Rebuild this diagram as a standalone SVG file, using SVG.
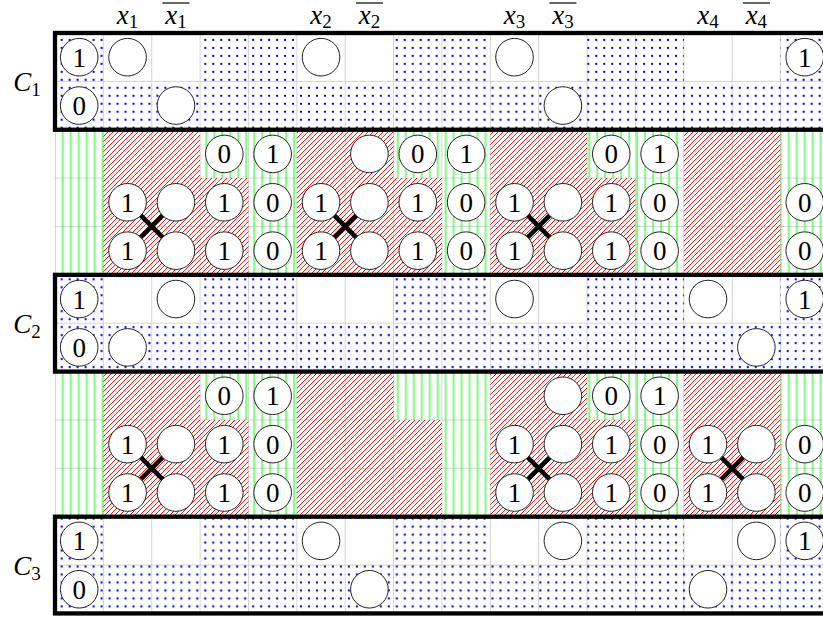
<svg xmlns="http://www.w3.org/2000/svg" width="823" height="617" viewBox="0 0 823 617">
<defs>
<style>
.grid{stroke:#d0d0d0;stroke-width:0.9;fill:none}
.dots{fill:url(#pd)}
.vl{fill:url(#pg)}
.ne{fill:url(#pr)}
.box{fill:none;stroke:#000;stroke-width:4.3}
.xm{stroke:#000;stroke-width:4.6;fill:none}
.n circle{fill:#fff;stroke:#222;stroke-width:1}
.n text{font-family:"Liberation Serif","DejaVu Serif",serif;font-size:27px;text-anchor:middle;fill:#000}
.lab{font-family:"Liberation Serif","DejaVu Serif",serif;font-size:27px;text-anchor:middle;fill:#000}
.lab .v{font-style:italic}
.lab .s{font-size:19px}
.ov{stroke:#000;stroke-width:1.2}
</style>
<pattern id="pd" patternUnits="userSpaceOnUse" x="57.7" y="36" width="7.978" height="7.978"><circle cx="3.989" cy="3.989" r="1.15" fill="#0000ff"/></pattern>
<pattern id="pg" patternUnits="userSpaceOnUse" x="58.7" y="0" width="7.978" height="8"><rect x="3.5" y="0" width="1" height="8" fill="#00ff00"/></pattern>
<pattern id="pr" patternUnits="userSpaceOnUse" x="0" y="0" width="5" height="5"><path d="M0,5 L5,0 M-1,1 L1,-1 M4,6 L6,4" stroke="#ff0000" stroke-width="0.9" fill="none"/></pattern>
</defs>
<rect x="0" y="0" width="823" height="617" fill="#fff"/>

<g id="grid">
<path class="grid" d="M103.37,33V613.44M151.74,33V613.44M200.11,33V613.44M248.48,33V613.44M296.85,33V613.44M345.22,33V613.44M393.59,33V613.44M441.96,33V613.44M490.33,33V613.44M538.7,33V613.44M587.07,33V613.44M635.44,33V613.44M683.81,33V613.44M732.18,33V613.44M780.55,33V613.44M55,81.37H830M55,129.74H830M55,178.11H830M55,226.48H830M55,274.85H830M55,323.22H830M55,371.59H830M55,419.96H830M55,468.33H830M55,516.7H830M55,565.07H830"/>
</g>

<g id="clause-fills">
<path class="dots" d="M55,33h48.37v48.37h-48.37z M200.11,33h96.74v48.37h-96.74z M393.59,33h96.74v48.37h-96.74z M587.07,33h96.74v48.37h-96.74z M780.55,33h48.37v48.37h-48.37z M55,81.37h773.92v48.37h-773.92z"/>
<path class="dots" d="M55,274.85h48.37v48.37h-48.37z M200.11,274.85h96.74v48.37h-96.74z M393.59,274.85h96.74v48.37h-96.74z M587.07,274.85h96.74v48.37h-96.74z M780.55,274.85h48.37v48.37h-48.37z M55,323.22h773.92v48.37h-773.92z"/>
<path class="dots" d="M55,516.7h48.37v48.37h-48.37z M200.11,516.7h96.74v48.37h-96.74z M393.59,516.7h96.74v48.37h-96.74z M587.07,516.7h96.74v48.37h-96.74z M780.55,516.7h48.37v48.37h-48.37z M55,565.07h773.92v48.37h-773.92z"/>
</g>

<g id="band-fills">
<path class="vl" d="M55,129.74h48.37v145.11h-48.37z M200.11,129.74h48.37v48.37h-48.37z M248.48,129.74h48.37v145.11h-48.37z M393.59,129.74h48.37v48.37h-48.37z M441.96,129.74h48.37v145.11h-48.37z M587.07,129.74h48.37v48.37h-48.37z M635.44,129.74h48.37v145.11h-48.37z M780.55,129.74h48.37v145.11h-48.37z"/>
<path class="ne" d="M103.37,129.74H200.11V178.11H248.48V274.85H103.37Z M296.85,129.74H393.59V178.11H441.96V274.85H296.85Z M490.33,129.74H587.07V178.11H635.44V274.85H490.33Z M683.81,129.74h96.74v145.11h-96.74z"/>
<path class="vl" d="M55,371.59h48.37v145.11h-48.37z M200.11,371.59h48.37v48.37h-48.37z M248.48,371.59h48.37v145.11h-48.37z M393.59,371.59h48.37v48.37h-48.37z M441.96,371.59h48.37v145.11h-48.37z M587.07,371.59h48.37v48.37h-48.37z M635.44,371.59h48.37v145.11h-48.37z M780.55,371.59h48.37v145.11h-48.37z"/>
<path class="ne" d="M103.37,371.59H200.11V419.96H248.48V516.7H103.37Z M296.85,371.59H393.59V419.96H441.96V516.7H296.85Z M490.33,371.59H587.07V419.96H635.44V516.7H490.33Z M683.81,371.59h96.74v145.11h-96.74z"/>
</g>

<g id="boxes">
<rect class="box" x="55" y="33" width="773.92" height="96.74"/>
<rect class="box" x="55" y="274.85" width="773.92" height="96.74"/>
<rect class="box" x="55" y="516.7" width="773.92" height="96.74"/>
</g>

<g id="connectors">
<path class="xm" d="M139.74,214.48l24,24M163.74,214.48l-24,24"/>
<path class="xm" d="M333.22,214.48l24,24M357.22,214.48l-24,24"/>
<path class="xm" d="M526.7,214.48l24,24M550.7,214.48l-24,24"/>
<path class="xm" d="M139.74,456.33l24,24M163.74,456.33l-24,24"/>
<path class="xm" d="M526.7,456.33l24,24M550.7,456.33l-24,24"/>
<path class="xm" d="M720.18,456.33l24,24M744.18,456.33l-24,24"/>
</g>

<g id="labels">
<text class="lab" x="127.56" y="24"><tspan class="v">x</tspan><tspan class="s" dy="4">1</tspan></text>
<text class="lab" x="175.93" y="24"><tspan class="v">x</tspan><tspan class="s" dy="4">1</tspan></text>
<line class="ov" x1="162.4" y1="3" x2="189.4" y2="3"/>
<text class="lab" x="321.04" y="24"><tspan class="v">x</tspan><tspan class="s" dy="4">2</tspan></text>
<text class="lab" x="369.41" y="24"><tspan class="v">x</tspan><tspan class="s" dy="4">2</tspan></text>
<line class="ov" x1="355.9" y1="3" x2="382.9" y2="3"/>
<text class="lab" x="514.52" y="24"><tspan class="v">x</tspan><tspan class="s" dy="4">3</tspan></text>
<text class="lab" x="562.89" y="24"><tspan class="v">x</tspan><tspan class="s" dy="4">3</tspan></text>
<line class="ov" x1="549.4" y1="3" x2="576.4" y2="3"/>
<text class="lab" x="708" y="24"><tspan class="v">x</tspan><tspan class="s" dy="4">4</tspan></text>
<text class="lab" x="756.37" y="24"><tspan class="v">x</tspan><tspan class="s" dy="4">4</tspan></text>
<line class="ov" x1="742.9" y1="3" x2="769.9" y2="3"/>
<text class="lab" x="27" y="90.8"><tspan class="v">C</tspan><tspan class="s" dy="5">1</tspan></text>
<text class="lab" x="27" y="332.6"><tspan class="v">C</tspan><tspan class="s" dy="5">2</tspan></text>
<text class="lab" x="27" y="574.5"><tspan class="v">C</tspan><tspan class="s" dy="5">3</tspan></text>
</g>

<g id="nodes">
<g id="c1a" class="n"><circle cx="79.19" cy="57.19" r="18.8"/><text x="79.19" y="66.7">1</text></g>
<g id="c1b" class="n"><circle cx="127.56" cy="57.19" r="18.8"/></g>
<g id="c1c" class="n"><circle cx="321.04" cy="57.19" r="18.8"/></g>
<g id="c1d" class="n"><circle cx="514.52" cy="57.19" r="18.8"/></g>
<g id="c1e" class="n"><circle cx="804.74" cy="57.19" r="18.8"/><text x="804.74" y="66.7">1</text></g>
<g id="c1f" class="n"><circle cx="79.19" cy="105.56" r="18.8"/><text x="79.19" y="115.06">0</text></g>
<g id="c1g" class="n"><circle cx="175.93" cy="105.56" r="18.8"/></g>
<g id="c1h" class="n"><circle cx="562.89" cy="105.56" r="18.8"/></g>
<g id="a2a" class="n"><circle cx="224.3" cy="153.93" r="18.8"/><text x="224.3" y="163.43">0</text></g>
<g id="a2b" class="n"><circle cx="272.67" cy="153.93" r="18.8"/><text x="272.67" y="163.43">1</text></g>
<g id="a2c" class="n"><circle cx="369.41" cy="153.93" r="18.8"/></g>
<g id="a2d" class="n"><circle cx="417.78" cy="153.93" r="18.8"/><text x="417.78" y="163.43">0</text></g>
<g id="a2e" class="n"><circle cx="466.15" cy="153.93" r="18.8"/><text x="466.15" y="163.43">1</text></g>
<g id="a2f" class="n"><circle cx="611.26" cy="153.93" r="18.8"/><text x="611.26" y="163.43">0</text></g>
<g id="a2g" class="n"><circle cx="659.63" cy="153.93" r="18.8"/><text x="659.63" y="163.43">1</text></g>
<g id="a3a" class="n"><circle cx="127.56" cy="202.3" r="18.8"/><text x="127.56" y="211.8">1</text></g>
<g id="a3b" class="n"><circle cx="175.93" cy="202.3" r="18.8"/></g>
<g id="a3c" class="n"><circle cx="224.3" cy="202.3" r="18.8"/><text x="224.3" y="211.8">1</text></g>
<g id="a3d" class="n"><circle cx="272.67" cy="202.3" r="18.8"/><text x="272.67" y="211.8">0</text></g>
<g id="a3e" class="n"><circle cx="321.04" cy="202.3" r="18.8"/><text x="321.04" y="211.8">1</text></g>
<g id="a3f" class="n"><circle cx="369.41" cy="202.3" r="18.8"/></g>
<g id="a3g" class="n"><circle cx="417.78" cy="202.3" r="18.8"/><text x="417.78" y="211.8">1</text></g>
<g id="a3h" class="n"><circle cx="466.15" cy="202.3" r="18.8"/><text x="466.15" y="211.8">0</text></g>
<g id="a3i" class="n"><circle cx="514.52" cy="202.3" r="18.8"/><text x="514.52" y="211.8">1</text></g>
<g id="a3j" class="n"><circle cx="562.89" cy="202.3" r="18.8"/></g>
<g id="a3k" class="n"><circle cx="611.26" cy="202.3" r="18.8"/><text x="611.26" y="211.8">1</text></g>
<g id="a3l" class="n"><circle cx="659.63" cy="202.3" r="18.8"/><text x="659.63" y="211.8">0</text></g>
<g id="a3m" class="n"><circle cx="804.74" cy="202.3" r="18.8"/><text x="804.74" y="211.8">0</text></g>
<g id="a4a" class="n"><circle cx="127.56" cy="250.67" r="18.8"/><text x="127.56" y="260.17">1</text></g>
<g id="a4b" class="n"><circle cx="175.93" cy="250.67" r="18.8"/></g>
<g id="a4c" class="n"><circle cx="224.3" cy="250.67" r="18.8"/><text x="224.3" y="260.17">1</text></g>
<g id="a4d" class="n"><circle cx="272.67" cy="250.67" r="18.8"/><text x="272.67" y="260.17">0</text></g>
<g id="a4e" class="n"><circle cx="321.04" cy="250.67" r="18.8"/><text x="321.04" y="260.17">1</text></g>
<g id="a4f" class="n"><circle cx="369.41" cy="250.67" r="18.8"/></g>
<g id="a4g" class="n"><circle cx="417.78" cy="250.67" r="18.8"/><text x="417.78" y="260.17">1</text></g>
<g id="a4h" class="n"><circle cx="466.15" cy="250.67" r="18.8"/><text x="466.15" y="260.17">0</text></g>
<g id="a4i" class="n"><circle cx="514.52" cy="250.67" r="18.8"/><text x="514.52" y="260.17">1</text></g>
<g id="a4j" class="n"><circle cx="562.89" cy="250.67" r="18.8"/></g>
<g id="a4k" class="n"><circle cx="611.26" cy="250.67" r="18.8"/><text x="611.26" y="260.17">1</text></g>
<g id="a4l" class="n"><circle cx="659.63" cy="250.67" r="18.8"/><text x="659.63" y="260.17">0</text></g>
<g id="a4m" class="n"><circle cx="804.74" cy="250.67" r="18.8"/><text x="804.74" y="260.17">0</text></g>
<g id="c2a" class="n"><circle cx="79.19" cy="299.04" r="18.8"/><text x="79.19" y="308.54">1</text></g>
<g id="c2b" class="n"><circle cx="175.93" cy="299.04" r="18.8"/></g>
<g id="c2c" class="n"><circle cx="514.52" cy="299.04" r="18.8"/></g>
<g id="c2d" class="n"><circle cx="708" cy="299.04" r="18.8"/></g>
<g id="c2e" class="n"><circle cx="804.74" cy="299.04" r="18.8"/><text x="804.74" y="308.54">1</text></g>
<g id="c2f" class="n"><circle cx="79.19" cy="347.41" r="18.8"/><text x="79.19" y="356.91">0</text></g>
<g id="c2g" class="n"><circle cx="127.56" cy="347.41" r="18.8"/></g>
<g id="c2h" class="n"><circle cx="756.37" cy="347.41" r="18.8"/></g>
<g id="b7a" class="n"><circle cx="224.3" cy="395.78" r="18.8"/><text x="224.3" y="405.28">0</text></g>
<g id="b7b" class="n"><circle cx="272.67" cy="395.78" r="18.8"/><text x="272.67" y="405.28">1</text></g>
<g id="b7c" class="n"><circle cx="562.89" cy="395.78" r="18.8"/></g>
<g id="b7d" class="n"><circle cx="611.26" cy="395.78" r="18.8"/><text x="611.26" y="405.28">0</text></g>
<g id="b7e" class="n"><circle cx="659.63" cy="395.78" r="18.8"/><text x="659.63" y="405.28">1</text></g>
<g id="b8a" class="n"><circle cx="127.56" cy="444.15" r="18.8"/><text x="127.56" y="453.65">1</text></g>
<g id="b8b" class="n"><circle cx="175.93" cy="444.15" r="18.8"/></g>
<g id="b8c" class="n"><circle cx="224.3" cy="444.15" r="18.8"/><text x="224.3" y="453.65">1</text></g>
<g id="b8d" class="n"><circle cx="272.67" cy="444.15" r="18.8"/><text x="272.67" y="453.65">0</text></g>
<g id="b8e" class="n"><circle cx="514.52" cy="444.15" r="18.8"/><text x="514.52" y="453.65">1</text></g>
<g id="b8f" class="n"><circle cx="562.89" cy="444.15" r="18.8"/></g>
<g id="b8g" class="n"><circle cx="611.26" cy="444.15" r="18.8"/><text x="611.26" y="453.65">1</text></g>
<g id="b8h" class="n"><circle cx="659.63" cy="444.15" r="18.8"/><text x="659.63" y="453.65">0</text></g>
<g id="b8i" class="n"><circle cx="708" cy="444.15" r="18.8"/><text x="708" y="453.65">1</text></g>
<g id="b8j" class="n"><circle cx="756.37" cy="444.15" r="18.8"/></g>
<g id="b8k" class="n"><circle cx="804.74" cy="444.15" r="18.8"/><text x="804.74" y="453.65">0</text></g>
<g id="b9a" class="n"><circle cx="127.56" cy="492.52" r="18.8"/><text x="127.56" y="502.02">1</text></g>
<g id="b9b" class="n"><circle cx="175.93" cy="492.52" r="18.8"/></g>
<g id="b9c" class="n"><circle cx="224.3" cy="492.52" r="18.8"/><text x="224.3" y="502.02">1</text></g>
<g id="b9d" class="n"><circle cx="272.67" cy="492.52" r="18.8"/><text x="272.67" y="502.02">0</text></g>
<g id="b9e" class="n"><circle cx="514.52" cy="492.52" r="18.8"/><text x="514.52" y="502.02">1</text></g>
<g id="b9f" class="n"><circle cx="562.89" cy="492.52" r="18.8"/></g>
<g id="b9g" class="n"><circle cx="611.26" cy="492.52" r="18.8"/><text x="611.26" y="502.02">1</text></g>
<g id="b9h" class="n"><circle cx="659.63" cy="492.52" r="18.8"/><text x="659.63" y="502.02">0</text></g>
<g id="b9i" class="n"><circle cx="708" cy="492.52" r="18.8"/><text x="708" y="502.02">1</text></g>
<g id="b9j" class="n"><circle cx="756.37" cy="492.52" r="18.8"/></g>
<g id="b9k" class="n"><circle cx="804.74" cy="492.52" r="18.8"/><text x="804.74" y="502.02">0</text></g>
<g id="c3a" class="n"><circle cx="79.19" cy="540.89" r="18.8"/><text x="79.19" y="550.39">1</text></g>
<g id="c3b" class="n"><circle cx="321.04" cy="540.89" r="18.8"/></g>
<g id="c3c" class="n"><circle cx="562.89" cy="540.89" r="18.8"/></g>
<g id="c3d" class="n"><circle cx="756.37" cy="540.89" r="18.8"/></g>
<g id="c3e" class="n"><circle cx="804.74" cy="540.89" r="18.8"/><text x="804.74" y="550.39">1</text></g>
<g id="c3f" class="n"><circle cx="79.19" cy="589.26" r="18.8"/><text x="79.19" y="598.76">0</text></g>
<g id="c3g" class="n"><circle cx="369.41" cy="589.26" r="18.8"/></g>
<g id="c3h" class="n"><circle cx="708" cy="589.26" r="18.8"/></g>
</g>
</svg>
